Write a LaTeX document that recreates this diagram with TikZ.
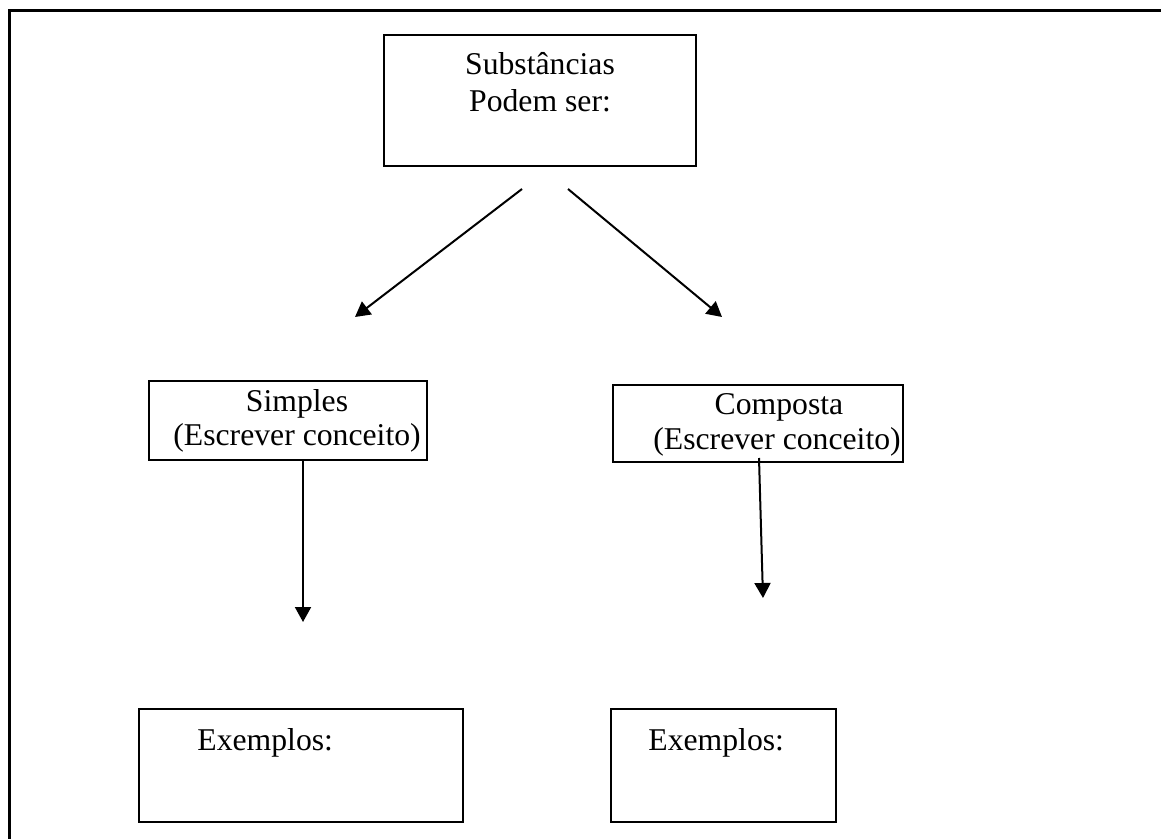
\documentclass[tikz,border=0pt]{standalone}
\usepackage{fontspec}
\setmainfont{Liberation Serif}
\usetikzlibrary{arrows.meta}
\begin{document}
\begin{tikzpicture}[x=0.5pt,y=-0.5pt,
  box/.style={draw,line width=0.8pt,rectangle,inner sep=0pt,outer sep=0pt},
  lbl/.style={inner sep=0pt,font=\fontsize{15.85pt}{18.35pt}\selectfont},
  conn/.style={line width=1pt,-{Triangle[length=7.5pt,width=8pt]}},
  frame/.style={line width=1.5pt}]
\useasboundingbox (0,0) rectangle (1161,839);
% frame
\coordinate (fA) at (9.5,839);
\coordinate (fB) at (9.5,10.5);
\coordinate (fC) at (1161,10.5);
\draw[frame] (fA) -- (fB) -- (fC);
% boxes
\node[box,minimum width=139pt,minimum height=39.5pt] (simp) at (288,420.5) {};
\node[box,minimum width=145pt,minimum height=38.5pt] (comp) at (758,423.5) {};
\node[box,minimum width=156pt,minimum height=65.5pt] (top) at (540,100.5) {};
\node[box,minimum width=162pt,minimum height=56.5pt] (ex1) at (301,765.5) {};
\node[box,minimum width=112.5pt,minimum height=56.5pt] (ex2) at (723.5,765.5) {};
% texts
\node[lbl,anchor=base] (t1) at (540,75) {Substâncias};
\node[lbl,anchor=base] (t2) at (540,112) {Podem ser:};
\node[lbl,anchor=base] (s1) at (297,411) {Simples};
\node[lbl,anchor=base west] (s2) at (173,445) {(Escrever conceito)};
\node[lbl,anchor=base] (c1) at (779,415) {Composta};
\node[lbl,anchor=base west] (c2) at (653,449) {(Escrever conceito)};
\node[lbl,anchor=base west] (e1) at (197,750) {Exemplos:};
\node[lbl,anchor=base west] (e2) at (648,750) {Exemplos:};
% arrow end points
\coordinate (a1s) at (522,189);
\coordinate (a1e) at (355,317);
\coordinate (a2s) at (568,189);
\coordinate (a2e) at (722,317);
\coordinate (a3s) at (303,460);
\coordinate (a3e) at (303,622);
\coordinate (a4s) at (759,458);
\coordinate (a4e) at (763,598);
\draw[conn] (a1s) -- (a1e);
\draw[conn] (a2s) -- (a2e);
\draw[conn] (a3s) -- (a3e);
\draw[conn] (a4s) -- (a4e);
\end{tikzpicture}
\end{document}
